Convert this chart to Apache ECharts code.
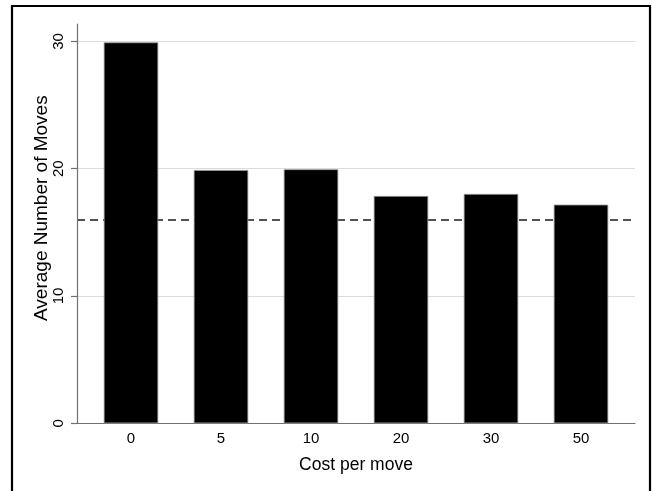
<!DOCTYPE html>
<html>
<head>
<meta charset="utf-8">
<script src="https://cdn.jsdelivr.net/npm/echarts@6/dist/echarts.min.js"></script>
<style>
  html, body { margin: 0; padding: 0; background: #fff; }
  #chart { width: 652px; height: 491px; }
</style>
</head>
<body>
<div id="chart"></div>
<script>
// Cost levels shown on the horizontal axis
const costLevels = ['0', '5', '10', '20', '30', '50'];
// Average number of moves for each cost level
const avgMoves = [29.93, 19.9, 19.96, 17.86, 18.02, 17.18];
// Horizontal dashed benchmark level
const benchmark = [16.03];
// Vertical axis tick values
const yTicks = [0, 10, 20, 30];

const FONT = '"Liberation Sans", Arial, Helvetica, sans-serif';
const chart = echarts.init(document.getElementById('chart'), null, { renderer: 'canvas' });

const barData = costLevels.map((c, i) => [i, avgMoves[i]]);

chart.setOption({
  animation: false,
  backgroundColor: '#fff',
  grid: { left: 77, right: 17, top: 24, bottom: 67.7 },
  xAxis: {
    type: 'value',
    min: -0.6,
    max: 5.6,
    name: 'Cost per move',
    nameLocation: 'middle',
    nameGap: 33,
    nameTextStyle: { fontFamily: FONT, fontSize: 17.5, color: '#000' },
    axisLine: { show: true, onZero: false, lineStyle: { color: '#707070', width: 1.2 } },
    axisTick: { show: false },
    splitLine: { show: false },
    axisLabel: {
      customValues: costLevels.map((c, i) => i),
      formatter: v => costLevels[Math.round(v)],
      fontFamily: FONT, fontSize: 15, color: '#000', margin: 8
    }
  },
  yAxis: {
    type: 'value',
    min: 0,
    max: 31.37,
    interval: 10,
    name: 'Average Number of Moves',
    nameLocation: 'middle',
    nameGap: 26,
    nameMoveOverlap: false,
    nameTextStyle: { fontFamily: FONT, fontSize: 19, color: '#000', padding: [0, 0, 0, 31] },
    axisLine: { show: true, onZero: false, lineStyle: { color: '#707070', width: 1.2 } },
    axisTick: { show: true, customValues: yTicks, length: 6, lineStyle: { color: '#707070', width: 1.2 } },
    splitLine: { show: false },
    axisLabel: {
      customValues: yTicks,
      rotate: 90,
      fontFamily: FONT, fontSize: 15, color: '#000', margin: 11
    }
  },
  graphic: [{
    type: 'rect',
    shape: { x: 12, y: 6, width: 638, height: 520 },
    style: { fill: null, stroke: '#000', lineWidth: 2.2 },
    silent: true,
    z: 100
  }],
  series: [
    {
      // horizontal gridlines and the dashed benchmark, drawn beneath the bars
      type: 'line',
      data: [],
      z: 0,
      silent: true,
      markLine: {
        z: 0,
        silent: true,
        symbol: 'none',
        label: { show: false },
        data: yTicks.filter(v => v > 0).map(v => ({
          yAxis: v, lineStyle: { color: '#dcdcdc', width: 1.2, type: 'solid' }
        })).concat(benchmark.map(v => ({
          yAxis: v, lineStyle: { color: '#1a1a1a', width: 1.6, type: [8, 5] }
        })))
      }
    },
    {
      type: 'bar',
      data: barData,
      barWidth: 54.5,
      z: 3,
      itemStyle: { color: '#000', borderColor: '#9a9a9a', borderWidth: 0.8 }
    }
  ]
});
</script>
</body>
</html>
